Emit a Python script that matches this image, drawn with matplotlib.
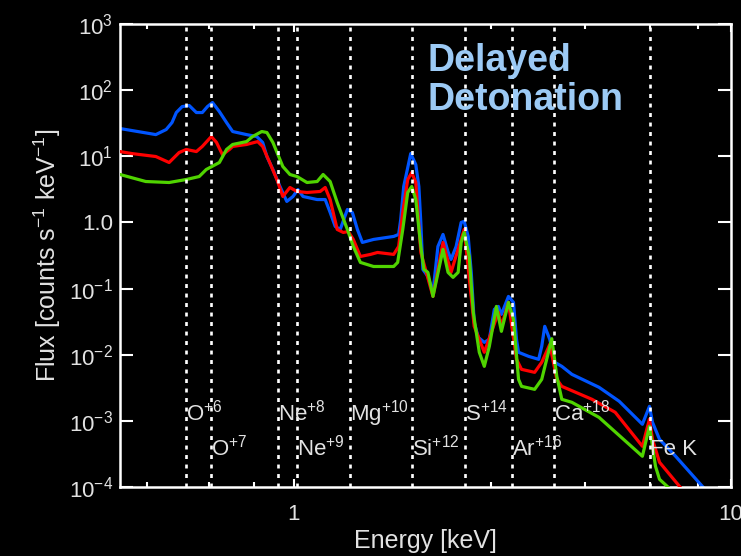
import matplotlib
matplotlib.use('Agg')
import matplotlib.pyplot as plt
from matplotlib.ticker import FixedLocator, NullFormatter

plt.rcParams['font.family'] = ['Liberation Sans', 'DejaVu Sans']
plt.rcParams['mathtext.default'] = 'regular'

# spectra: energy [keV], flux [counts/s/keV]
blue_e = [0.40, 0.483, 0.510, 0.526, 0.538, 0.555, 0.576, 0.598, 0.617, 0.634,
          0.651, 0.675, 0.701, 0.724, 0.779, 0.822, 0.848, 0.867, 0.895, 0.929,
          0.963, 0.995, 1.021, 1.049, 1.130, 1.179, 1.210, 1.243, 1.276, 1.325,
          1.360, 1.397, 1.434, 1.521, 1.691, 1.736, 1.755, 1.783, 1.850, 1.900,
          1.931, 1.951, 1.972, 2.025, 2.080, 2.135, 2.193, 2.252, 2.288, 2.350,
          2.413, 2.452, 2.504, 2.545, 2.585, 2.641, 2.726, 2.799, 2.874, 2.936,
          2.983, 3.096, 3.179, 3.230, 3.265, 3.443, 3.630, 3.689, 3.748, 3.849,
          3.952, 4.101, 4.324, 4.990, 5.549, 6.270, 6.507, 6.612, 6.862, 7.470,
          8.75]
blue_f = [26.3, 21.3, 25.4, 32.4, 45.9, 56.5, 58.5, 45.9, 45.9, 56.5,
          65.0, 47.5, 32.4, 23.7, 21.3, 19.9, 16.2, 9.93, 6.32, 3.50,
          2.08, 2.47, 3.15, 2.47, 2.22, 2.22, 1.42, 0.870, 0.784, 1.57,
          1.42, 0.784, 0.499, 0.554, 0.615, 0.659, 1.11, 3.50, 11.0, 7.5,
          3.50, 1.0, 0.195, 0.153, 0.0877, 0.434, 0.659, 0.36, 0.276, 0.434,
          1.0, 1.04, 0.615, 0.176, 0.0308, 0.0183, 0.0154, 0.0171, 0.0485, 0.0538,
          0.0408, 0.0762, 0.0619, 0.0171, 0.0109, 0.00946, 0.00853, 0.0134, 0.0269, 0.0171,
          0.00768, 0.00668, 0.00506, 0.00322, 0.00198, 0.000889, 0.00166, 0.000953, 0.000527, 0.000292,
          0.00009]

red_e = [0.40, 0.426, 0.483, 0.518, 0.546, 0.567, 0.598, 0.617, 0.647, 0.665,
         0.686, 0.712, 0.724, 0.779, 0.826, 0.848, 0.880, 0.914, 0.943, 0.979,
         1.016, 1.071, 1.148, 1.179, 1.210, 1.256, 1.297, 1.331, 1.367, 1.419,
         1.497, 1.553, 1.691, 1.736, 1.774, 1.821, 1.860, 1.900, 1.951, 2.080,
         2.193, 2.288, 2.452, 2.585, 2.726, 2.936, 2.983, 3.096, 3.230, 3.317,
         3.554, 3.689, 3.850, 3.994, 4.101, 4.808, 5.433, 6.270, 6.507, 6.612,
         6.862, 7.75]
red_f = [11.8, 11.0, 9.93, 8.06, 11.4, 12.7, 11.8, 14.1, 19.9, 16.2,
         10.6, 12.7, 14.1, 15.1, 16.7, 14.1, 8.06, 4.46, 2.47, 3.38,
         2.94, 2.84, 2.94, 3.38, 2.22, 0.784, 0.706, 0.731, 0.554, 0.306,
         0.329, 0.352, 0.329, 0.434, 1.42, 4.46, 5.69, 4.02, 0.352, 0.0762,
         0.499, 0.176, 0.784, 0.0269, 0.0109, 0.0437, 0.0269, 0.0619, 0.00853, 0.00602,
         0.00542, 0.00768, 0.0144, 0.00425, 0.00333, 0.00212, 0.00135, 0.000413, 0.00106, 0.000527,
         0.000237, 0.00009]

green_e = [0.40, 0.458, 0.518, 0.567, 0.607, 0.630, 0.675, 0.701, 0.724, 0.779,
           0.804, 0.844, 0.867, 0.895, 0.943, 0.979, 1.016, 1.071, 1.130, 1.166,
           1.210, 1.256, 1.325, 1.367, 1.419, 1.521, 1.691, 1.727, 1.774, 1.821,
           1.860, 1.900, 1.951, 1.983, 2.025, 2.080, 2.193, 2.252, 2.312, 2.375,
           2.413, 2.452, 2.518, 2.572, 2.655, 2.726, 2.799, 2.905, 2.983, 3.096,
           3.179, 3.265, 3.317, 3.554, 3.689, 3.890, 3.994, 4.101, 4.324, 4.990,
           6.270, 6.507, 6.612, 6.718, 6.862, 7.30]
green_f = [5.31, 4.16, 4.02, 4.46, 4.95, 6.32, 8.06, 12.7, 15.1, 16.7,
           19.9, 23.7, 22.9, 16.2, 7.01, 5.31, 4.95, 4.02, 4.16, 5.31,
           4.16, 2.00, 0.784, 0.434, 0.249, 0.216, 0.216, 0.249, 0.784, 2.84,
           3.50, 2.22, 0.434, 0.195, 0.176, 0.0762, 0.391, 0.176, 0.148, 0.176,
           0.499, 0.706, 0.306, 0.0437, 0.0109, 0.00668, 0.0134, 0.0538, 0.0226, 0.0619,
           0.0343, 0.00425, 0.00333, 0.00300, 0.00425, 0.0175, 0.00472, 0.00212, 0.00191, 0.00113,
           0.000292, 0.000829, 0.000413, 0.000206, 0.000131, 0.00009]

# ion lines
line_e = [0.567, 0.647, 0.919, 1.016, 1.34, 1.86, 2.46, 3.16, 3.93, 6.54]
line_lab = [r'O$^{+6}$', r'O$^{+7}$', r'Ne$^{+8}$', r'Ne$^{+9}$', r'Mg$^{+10}$',
            r'Si$^{+12}$', r'S$^{+14}$', r'Ar$^{+16}$', r'Ca$^{+18}$', 'Fe K']
label_y = [1.0e-3, 3.0e-4]

y_ticks = [1e-4, 1e-3, 1e-2, 1e-1, 1, 1e1, 1e2, 1e3]
y_ticklabels = [r'$10^{-4}$', r'$10^{-3}$', r'$10^{-2}$', r'$10^{-1}$', '1.0',
                r'$10^{1}$', r'$10^{2}$', r'$10^{3}$']
x_minor = [0.46, 0.64, 0.81, 2.83, 4.63, 6.54, 8.40]

fg = '#e2e2e2'

fig = plt.figure(figsize=(7.41, 5.56), dpi=100, facecolor='black')
ax = fig.add_axes([0.162, 0.124, 0.8245, 0.8328])
ax.set_facecolor('black')

ax.plot(blue_e, blue_f, color='#0055ff', lw=2.3, zorder=2)
ax.plot(red_e, red_f, color='#ff0000', lw=2.3, zorder=3)
ax.plot(green_e, green_f, color='#50d400', lw=2.3, zorder=4)

for i, (e, lab) in enumerate(zip(line_e, line_lab)):
    ax.axvline(e, color='white', lw=1.9, linestyle=(0, (1.5, 2.1)), zorder=5)
    ax.text(e, label_y[i % 2], lab, color=fg, fontsize=16, ha='left',
            va='baseline', zorder=6)

ax.text(0.5025, 0.958, 'Delayed\nDetonation', transform=ax.transAxes,
        color='#9ccaf5', fontsize=27, fontweight='bold', ha='left', va='top',
        linespacing=1.1, zorder=7)

ax.set_xscale('log')
ax.set_yscale('log')
ax.set_xlim(0.4, 10)
ax.set_ylim(1e-4, 1e3)

ax.xaxis.set_major_locator(FixedLocator([1, 10]))
ax.set_xticklabels(['1', '10'])
ax.xaxis.set_minor_locator(FixedLocator(x_minor))
ax.xaxis.set_minor_formatter(NullFormatter())
ax.yaxis.set_major_locator(FixedLocator(y_ticks))
ax.set_yticklabels(y_ticklabels)
ax.yaxis.set_minor_locator(FixedLocator([]))

ax.tick_params(axis='both', which='both', direction='in', colors='white',
               labelcolor=fg, labelsize=16, width=1.5, top=True, right=True)
ax.tick_params(axis='y', which='major', length=9.5, pad=5)
ax.tick_params(axis='x', which='major', length=6, pad=12)
ax.tick_params(axis='x', which='minor', length=3.5)

for s in ax.spines.values():
    s.set_color('white')
    s.set_linewidth(1.8)

ax.set_xlabel('Energy [keV]', color=fg, fontsize=18, labelpad=3)
ax.set_ylabel(r'Flux [counts s$^{-1}$ keV$^{-1}$]', color=fg, fontsize=18,
              labelpad=4)

fig.savefig('out.png', dpi=100, facecolor='black')
